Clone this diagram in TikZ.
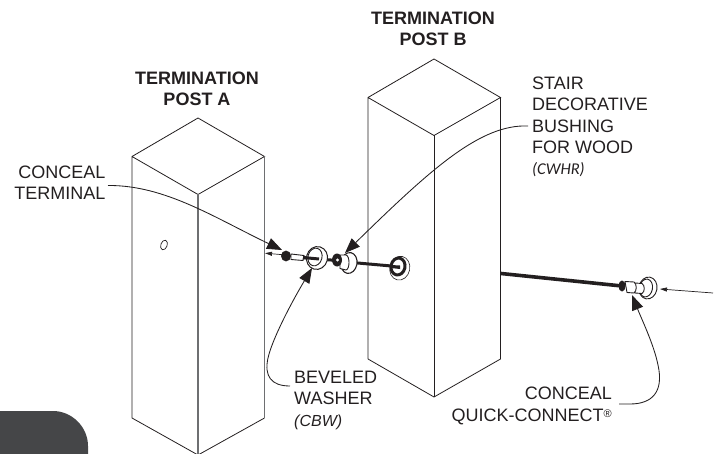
\documentclass[tikz,border=0pt]{standalone}
\usepackage{fontspec}
\setmainfont{Liberation Sans}
\newfontfamily\noteit{Carlito}
\usetikzlibrary{arrows.meta}
\definecolor{ink}{HTML}{231F20}
\definecolor{tab}{HTML}{454648}
\definecolor{edgegray}{HTML}{6E6F71}
\tikzset{
  x=1pt,y=-1pt,
  postline/.style={draw=ink,line width=0.8pt,line join=miter},
  postgray/.style={draw=edgegray,line width=1.1pt},
  title/.style={font=\fontsize{18}{21}\selectfont\bfseries,text=ink,align=center,inner sep=0pt,anchor=base},
  label/.style={font=\fontsize{18}{21.4}\selectfont,text=ink,inner sep=0pt,anchor=base west,align=left},
  leader/.style={draw=ink,line width=0.85pt,-{Triangle[length=15pt,width=11.5pt]}},
  rod/.style={draw=ink,line width=3pt},
  part/.style={draw=ink,fill=white,line width=0.9pt},
  thin arrow/.style={draw=ink,line width=0.7pt,-{Triangle[length=7pt,width=4pt]}}
}
\begin{document}
\begin{tikzpicture}
\useasboundingbox (0,0) rectangle (719,454);
% tab
\fill[tab] (0,454) -- (0,411) -- (53,411) .. controls (72,411) and (88,427) .. (88,446) -- (88,454) -- cycle;
% Post A
\draw[postline] (198,455) -- (132,418) -- (132,156.5) -- (198,118) -- (264.5,156.5) -- (198,194.5) -- (132,156.5);
\draw[postline] (198,455) -- (264.5,418);
\draw[postgray] (198,194.5) -- (198,455);
\draw[postgray] (264.5,156.5) -- (264.5,418);
\draw[part,line width=0.7pt,rotate around={-20:(164,245)}] (164,245) ellipse[x radius=3.2,y radius=5];
% Post B
\draw[postline] (368,359) -- (368,97.5) -- (434,59) -- (500.5,97.5) -- (434,135.5) -- (368,97.5);
\draw[postline] (500.5,97.5) -- (500.5,359) -- (434,397) -- (368,359);
\draw[postline] (434,135.5) -- (434,397);
% Labels
\node[title] (posta) at (197,105.5) {TERMINATION\\POST A};
\node[title] (postb) at (433,46) {TERMINATION\\POST B};
\node[label,align=right,anchor=base east] (conceal) at (105.5,200) {CONCEAL\\TERMINAL};
\node[label] (stair) at (532,175) {STAIR\\DECORATIVE\\BUSHING\\FOR WOOD\\{\noteit\itshape\fontsize{16.5}{21.4}\selectfont (CWHR)}};
\node[label] (bevel) at (294,426) {BEVELED\\WASHER\\{\itshape\fontsize{16}{21.4}\selectfont (CBW)}};
\node[label,align=right,anchor=base east] (quick) at (612,421) {CONCEAL\\QUICK-CONNECT\raisebox{4pt}{\fontsize{11}{11}\selectfont ®}};
% Hardware: rods
\draw[rod] (300,257.5) -- (337,260.5);
\draw[rod] (352,262.5) -- (397,266.5);
\draw[draw=ink,line width=3.6pt] (501,273.5) -- (622,286);
% hole in post B
\draw[draw=ink,line width=0.6pt,rotate around={-12:(399,267)}] (400,268) ellipse[x radius=10,y radius=12];
\draw[draw=ink,line width=3pt,fill=white,rotate around={-12:(398,266.5)}] (398,266.5) ellipse[x radius=7,y radius=8.5];
\fill[ink] (391,265) -- (400,265.5) -- (400,269) -- (391,268) -- cycle;
% terminal
\draw[part] (291,254) -- (304,255.5) -- (303,260.5) -- (291,259.5) -- cycle;
\fill[ink] (286,256) ellipse[x radius=5,y radius=5.4];
\coordinate (termArrowStart) at (284,254.8);
\coordinate (termArrowTip) at (265,253.2);
\draw[thin arrow] (termArrowStart) -- (termArrowTip);
% washer
\draw[part,line width=1pt,rotate around={-15:(317,258)}] (317,258) ellipse[x radius=10.5,y radius=11.5];
\draw[part,rotate around={-15:(315,257)}] (315,257) ellipse[x radius=7,y radius=9];
\draw[draw=ink,line width=3pt] (303,257.5) -- (319,259);
% bushing
\draw[part,line width=1.1pt,rotate around={-10:(349,263)}] (349,263) ellipse[x radius=8,y radius=10.5];
\draw[part] (340,255) -- (346,255) .. controls (350,256) and (350,269) .. (346,270) -- (340,268.5) -- cycle;
\fill[ink] (337,260) ellipse[x radius=5,y radius=6.5];
\fill[white] (337.5,260) circle[radius=1.6];
% quick connect
\draw[part,rotate around={-10:(648,288)}] (648,288) ellipse[x radius=9,y radius=11];
\draw[part,rotate around={-10:(646,288)}] (646,288) ellipse[x radius=6.5,y radius=9];
\draw[part] (635,283) -- (642,283.5) .. controls (645,285) and (645,292) .. (642,293.5) -- (635,293) -- cycle;
\draw[part] (625,281.5) -- (634,282) .. controls (637,284) and (637,291) .. (634,293) -- (627,292.5) -- cycle;
\fill[ink] (622,286) ellipse[x radius=3.5,y radius=5.5];
\coordinate (pushStart) at (713,293);
\coordinate (pushTip) at (660,289);
\draw[thin arrow] (pushStart) -- (pushTip);
% leaders
\coordinate (tipTerminal) at (282,250);
\coordinate (tipBushing) at (345,253);
\coordinate (tipWasher) at (312,268);
\coordinate (tipQuick) at (632,295);
\draw[leader] (108,185.5) .. controls (165,185) and (215,218) .. (tipTerminal);
\draw[leader] (528,126) .. controls (480,124) and (430,170) .. (tipBushing);
\draw[leader] (290,386) .. controls (271,386) and (264,376) .. (268,358) .. controls (272,340) and (290,305) .. (tipWasher);
\draw[leader] (619,404) -- (630,404) .. controls (652,404) and (664,392) .. (658,365) .. controls (654,345) and (642,320) .. (tipQuick);
\end{tikzpicture}
\end{document}
